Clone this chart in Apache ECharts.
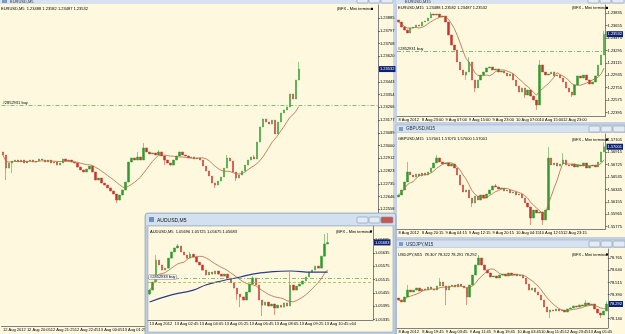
<!DOCTYPE html>
<html>
<head>
<meta charset="utf-8">
<title>MT4 workspace</title>
<script src="https://cdn.jsdelivr.net/npm/echarts@6/dist/echarts.min.js"></script>
<style>
  html, body { margin: 0; padding: 0; background: #c3d1e3; }
  #chart { width: 625px; height: 334px; }
</style>
</head>
<body>
<div id="chart"></div>
<script>
// ---- EURUSD M5 (big window), one candle per 10 minutes ----
var eurM5Open = 1.22956;
var eurM5Closes = [
  1.22935, 1.22844, 1.22879, 1.22893, 1.22900, 1.22886, 1.22900, 1.22879, 1.22893, 1.22900,
  1.22886, 1.22893, 1.22907, 1.22900, 1.22886, 1.22900, 1.22879, 1.22886, 1.22865, 1.22879,
  1.22907, 1.22893, 1.22900, 1.22886, 1.22879, 1.22851, 1.22831, 1.22817, 1.22837, 1.22858,
  1.22817, 1.22761, 1.22775, 1.22740, 1.22726, 1.22706, 1.22685, 1.22664, 1.22622, 1.22657,
  1.22692, 1.22747, 1.22886, 1.22914, 1.22900, 1.22921, 1.22900, 1.22984, 1.22956, 1.22942,
  1.22949, 1.22935, 1.22956, 1.22928, 1.22900, 1.22879, 1.22865, 1.22900, 1.22928, 1.22956,
  1.22935, 1.22928, 1.22914, 1.22921, 1.22907, 1.22914, 1.22900, 1.22858, 1.22824, 1.22789,
  1.22740, 1.22726, 1.22754, 1.22782, 1.22844, 1.22914, 1.22893, 1.22817, 1.22775, 1.22796,
  1.22824, 1.22865, 1.22900, 1.22921, 1.22907, 1.23025, 1.23130, 1.23185, 1.23164, 1.23150,
  1.23178, 1.23081, 1.23164, 1.23227, 1.23248, 1.23269, 1.23359, 1.23324, 1.23456, 1.23532
];
var eurM5Wicks = [[1, 1.22761], [3, 1.22810], [38, 1.22601], [45, 1.22956], [47, 1.23018],
  [52, 1.22970], [54, 1.22865], [71, 1.22706], [75, 1.22935], [78, 1.22754], [84, 1.22935], [99, 1.23582]];
var eurM5Ticks = [1.23885, 1.23797, 1.23708, 1.23620, 1.23443, 1.23354, 1.23266, 1.23177,
  1.23089, 1.23000, 1.22912, 1.22823, 1.22735, 1.22646, 1.22558];
var eurM5Times = ['12 Aug 2012', '12 Aug 20:05', '12 Aug 21:25', '12 Aug 22:45', '13 Aug 00:05',
  '13 Aug 01:25', '13 Aug 02:45', '13 Aug 04:05', '13 Aug 05:25', '13 Aug 06:45', '13 Aug 08:05',
  '13 Aug 09:25', '13 Aug 10:45', '13 Aug 12:05', '13 Aug 13:25', '13 Aug 14:45'];
var eurM5Bid = 1.23532;
var eurOrder = 1.23279;

// ---- EURUSD M15, one candle per hour ----
var eurM15Open = 1.23738;
var eurM15Closes = [
  1.23709, 1.23636, 1.23593, 1.23549, 1.23622, 1.23636, 1.23665, 1.23651, 1.23709, 1.23723,
  1.23767, 1.23825, 1.23810, 1.23825, 1.23781, 1.23796, 1.23709, 1.23520, 1.23375, 1.23302,
  1.23128, 1.23012, 1.22939, 1.22983, 1.23128, 1.22867, 1.22751, 1.22867, 1.22939, 1.22983,
  1.23041, 1.23055, 1.23012, 1.23026, 1.22983, 1.22997, 1.22968, 1.22925, 1.22954, 1.22867,
  1.22780, 1.22692, 1.22751, 1.22649, 1.22722, 1.22634, 1.22576, 1.22504, 1.23085, 1.22983,
  1.22939, 1.22954, 1.22983, 1.22925, 1.22939, 1.22896, 1.22838, 1.22751, 1.22692, 1.22649,
  1.22794, 1.22925, 1.22896, 1.22939, 1.22867, 1.22809, 1.22838, 1.22925, 1.23085, 1.23230,
  1.23532
];
var eurM15Wicks = [[11, 1.23854], [23, 1.22867], [24, 1.23201], [26, 1.22692], [43, 1.22605],
  [47, 1.22431], [48, 1.23157], [59, 1.22620], [70, 1.23582]];
var eurM15Ticks = [1.23835, 1.23655, 1.23475, 1.23295, 1.23115, 1.22935, 1.22755, 1.22575, 1.22395];
var eurM15Times = ['8 Aug 2012', '8 Aug 23:00', '9 Aug 07:00', '9 Aug 15:00', '9 Aug 23:00',
  '10 Aug 07:00', '10 Aug 15:00', '12 Aug 23:00', '13 Aug 06:00'];

// ---- GBPUSD M15 ----
var gbpOpen = 1.56228;
var gbpCloses = [
  1.56259, 1.56336, 1.56459, 1.56613, 1.56567, 1.56536, 1.56582, 1.56551, 1.56597, 1.56567,
  1.56613, 1.56674, 1.56751, 1.56828, 1.56767, 1.56736, 1.56751, 1.56705, 1.56736, 1.56674,
  1.56567, 1.56413, 1.56305, 1.56336, 1.56213, 1.56136, 1.56244, 1.56182, 1.56259, 1.56213,
  1.56274, 1.56336, 1.56398, 1.56382, 1.56351, 1.56367, 1.56321, 1.56336, 1.56290, 1.56305,
  1.56259, 1.56274, 1.56213, 1.56136, 1.56075, 1.55905, 1.56028, 1.55982, 1.55998, 1.55875,
  1.56028, 1.56828, 1.56720, 1.56751, 1.56705, 1.56736, 1.56797, 1.56720, 1.56705, 1.56736,
  1.56690, 1.56720, 1.56705, 1.56751, 1.56674, 1.56705, 1.56720, 1.56690, 1.56767, 1.56920,
  1.57001
];
var gbpWicks = [[3, 1.56767], [13, 1.56874], [25, 1.56075], [33, 1.56428], [45, 1.55798],
  [49, 1.55798], [51, 1.56997], [56, 1.56905], [70, 1.57070]];
var gbpTicks = [1.57105, 1.56915, 1.56725, 1.56535, 1.56345, 1.56155, 1.55965, 1.55775];
var gbpTimes = ['8 Aug 2012', '8 Aug 20:15', '9 Aug 04:15', '9 Aug 12:15', '9 Aug 20:15',
  '10 Aug 04:15', '10 Aug 12:15', '12 Aug 23:15', '13 Aug 06:15'];
var gbpBid = 1.57001;

// ---- USDJPY M15 ----
var jpyOpen = 78.354;
var jpyCloses = [
  78.333, 78.313, 78.364, 78.436, 78.416, 78.436, 78.457, 78.426, 78.447, 78.436,
  78.467, 78.447, 78.436, 78.478, 78.519, 78.478, 78.436, 78.478, 78.488, 78.467,
  78.498, 78.478, 78.457, 78.364, 78.488, 78.591, 78.695, 78.767, 78.695, 78.643,
  78.612, 78.571, 78.581, 78.560, 78.591, 78.602, 78.581, 78.612, 78.591, 78.602,
  78.581, 78.591, 78.560, 78.498, 78.436, 78.457, 78.416, 78.385, 78.333, 78.261,
  78.209, 78.230, 78.220, 78.240, 78.220, 78.230, 78.209, 78.240, 78.251, 78.271,
  78.261, 78.282, 78.271, 78.302, 78.282, 78.292, 78.240, 78.199, 78.178, 78.220,
  78.292
];
var jpyWicks = [[3, 78.488], [14, 78.560], [16, 78.282], [23, 78.282], [27, 78.798],
  [51, 78.147], [63, 78.333], [68, 78.147], [70, 78.322]];
var jpyTicks = [78.765, 78.640, 78.515, 78.390, 78.140];
var jpyTimes = ['8 Aug 2012', '8 Aug 19:45', '9 Aug 03:45', '9 Aug 11:45', '9 Aug 19:45',
  '10 Aug 03:45', '10 Aug 11:45', '12 Aug 23:45', '13 Aug 05:45'];
var jpyBid = 78.292;

// ---- AUDUSD M5 (floating window), one candle per 10 minutes ----
var audOpen = 1.05450;
var audCloses = [
  1.05468, 1.05504, 1.05603, 1.05581, 1.05558, 1.05567, 1.05612, 1.05640, 1.05658, 1.05667,
  1.05640, 1.05626, 1.05612, 1.05630, 1.05617, 1.05594, 1.05581, 1.05558, 1.05536, 1.05549,
  1.05540, 1.05554, 1.05540, 1.05531, 1.05540, 1.05522, 1.05500, 1.05477, 1.05450, 1.05437,
  1.05423, 1.05459, 1.05495, 1.05522, 1.05491, 1.05423, 1.05400, 1.05414, 1.05396, 1.05405,
  1.05387, 1.05400, 1.05391, 1.05410, 1.05396, 1.05491, 1.05468, 1.05486, 1.05495, 1.05509,
  1.05527, 1.05549, 1.05558, 1.05576, 1.05567, 1.05621, 1.05676, 1.05683
];
var audWicks = [[0, 1.05446], [2, 1.05626], [9, 1.05676], [13, 1.05640], [28, 1.05423],
  [29, 1.05391], [33, 1.05531], [36, 1.05351], [40, 1.05355], [45, 1.05549], [56, 1.05721],
  [57, 1.05725], [57, 1.05675]];
var audLongMa = [[0, 1.05414], [7, 1.05446], [14, 1.05468], [18, 1.05491], [23, 1.05509],
  [29, 1.05527], [33, 1.05540], [38, 1.05549], [45, 1.05554], [52, 1.05549], [57, 1.05549]];
var audTicks = [1.05695, 1.05635, 1.05575, 1.05515, 1.05455, 1.05395, 1.05335];
var audTimes = ['13 Aug 2012', '13 Aug 02:45', '13 Aug 04:05', '13 Aug 05:25', '13 Aug 06:45',
  '13 Aug 08:05', '13 Aug 09:25', '13 Aug 10:45'];
var audBid = 1.05683;
var audOrders = [1.05522, 1.05504];

// ---------------------------------------------------------------
var FONT = 'Liberation Sans';
var CREAM = '#fdf8de';
var UP = '#2f9a2f', DOWN = '#c8342b', MA = '#b4683f';

function candles(open0, closes, wicks) {
  var out = [], prev = open0;
  closes.forEach(function (c) {
    out.push([prev, c, Math.min(prev, c), Math.max(prev, c)]);
    prev = c;
  });
  wicks.forEach(function (w) {
    var d = out[w[0]];
    if (w[1] > d[3]) d[3] = w[1];
    if (w[1] < d[2]) d[2] = w[1];
  });
  return out;
}

function sma(closes, n) {
  return closes.map(function (c, i) {
    var s = 0, k = 0;
    for (var j = Math.max(0, i - n + 1); j <= i; j++) { s += closes[j]; k++; }
    return +(s / k).toFixed(6);
  });
}

function cats(n, labels) {
  var out = [];
  for (var i = 0; i < n; i++) out.push(i % 8 === 0 && labels[i / 8] ? labels[i / 8] : 'c' + i);
  return out;
}
function every8(i) { return i % 8 === 0; }

function xAx(gi, n, labels, zl) {
  return {
    type: 'category', gridIndex: gi, data: cats(n, labels), boundaryGap: true,
    zlevel: zl || 0, z: 3,
    axisLine: { lineStyle: { color: '#808080', width: 1 } },
    axisTick: { interval: every8, length: 2, lineStyle: { color: '#333', width: 0.6 } },
    axisLabel: { interval: every8, fontSize: 4, fontFamily: FONT, color: '#000', align: 'left', margin: 1.5 },
    splitLine: { show: false }
  };
}

function yAx(gi, min, max, ticks, digits, zl) {
  return {
    type: 'value', gridIndex: gi, position: 'right', min: min, max: max,
    zlevel: zl || 0, z: 3,
    splitLine: { show: false },
    axisLine: { show: true, lineStyle: { color: '#808080', width: 1 } },
    axisTick: { show: true, customValues: ticks, length: 2, lineStyle: { color: '#333', width: 0.6 } },
    axisLabel: {
      customValues: ticks, fontSize: 4, fontFamily: FONT, color: '#000', margin: 2,
      formatter: function (v) { return v.toFixed(digits); }
    }
  };
}

function bidLine(v, digits) {
  return {
    yAxis: v,
    lineStyle: { color: 'rgba(0,0,0,0)', width: 0 },
    label: {
      show: true, position: 'end', distance: 1, formatter: v.toFixed(digits),
      backgroundColor: '#0b2173', color: '#fff', fontSize: 4, fontFamily: FONT, padding: [1, 1]
    }
  };
}

function orderLine(v, text, color, dash, boxed) {
  return {
    yAxis: v,
    lineStyle: { color: color, type: dash, width: 0.8 },
    label: {
      show: !!text, position: 'insideStartTop', distance: boxed ? [1, -1] : [1, 1], formatter: text || '',
      fontSize: 4, fontFamily: FONT, color: '#000',
      backgroundColor: boxed ? '#f4f4f4' : 'transparent', borderColor: boxed ? '#888' : 'transparent',
      borderWidth: boxed ? 0.5 : 0, padding: boxed ? [0, 1] : 0
    }
  };
}

function candleSeries(xi, data, zl) {
  return {
    type: 'candlestick', xAxisIndex: xi, yAxisIndex: xi, data: data, barWidth: 2,
    zlevel: zl || 0, z: 4,
    itemStyle: { color: UP, color0: DOWN, borderColor: UP, borderColor0: DOWN, borderWidth: 0.5 }
  };
}
function maSeries(xi, data, color, width, zl, smooth, marks) {
  var s = {
    type: 'line', xAxisIndex: xi, yAxisIndex: xi, data: data, showSymbol: false, smooth: !!smooth,
    zlevel: zl || 0, z: 5,
    lineStyle: { color: color, width: width }
  };
  if (marks) {
    s.markLine = { silent: true, symbol: 'none', animation: false, precision: 5,
      zlevel: zl || 0, z: 6, data: marks };
  }
  return s;
}

// ---- window chrome (not data) ----
function rect(x, y, w, h, fill, zl, z, stroke, r) {
  return { type: 'rect', zlevel: zl, z: z, silent: true,
    shape: { x: x, y: y, width: w, height: h, r: r || 0 },
    style: { fill: fill, stroke: stroke || null, lineWidth: stroke ? 0.6 : 0 } };
}
function txt(x, y, s, size, zl, z, color) {
  return { type: 'text', zlevel: zl, z: z, silent: true, x: x, y: y,
    style: { text: s, fontSize: size, fontFamily: FONT, fill: color || '#000', verticalAlign: 'middle' } };
}
function buttons(x, y, zl, z, redLast) {
  return [
    rect(x, y, 11, 6, '#e4ebf4', zl, z, '#8597ad', 1),
    rect(x + 12, y, 11, 6, '#e4ebf4', zl, z, '#8597ad', 1),
    rect(x + 24, y, 12, 6, redLast ? '#c9574f' : '#e4ebf4', zl, z, '#8597ad', 1)
  ];
}
function bfx(x, y, zl, z) {
  return [txt(x, y, '(BFX - Mini terminal', 4, zl, z), rect(x + 34, y - 1, 2, 2, '#000', zl, z)];
}

var graphics = [].concat(
  // main EURUSD,M5 window
  [rect(0, 0, 396, 334, '#c9d6e7', 0, -6),
   rect(0, 0, 394, 4, '#d7e2f0', 0, -5),
   rect(0, 4, 393, 330, CREAM, 0, -5),
   rect(2, 0, 5, 3, '#7d9cc3', 0, -4),
   txt(10, 1.5, 'EURUSD,M5', 4, 0, -4, '#1d2a3a'),
   txt(1, 8.5, 'EURUSD,M5  1.23488 1.23582 1.23487 1.23532', 4, 0, 10)],
  buttons(357, -3, 0, -4, false),
  bfx(337, 9, 0, 10),
  // right column windows
  [rect(395, 0, 230, 334, '#c3d1e3', 0, -6),
   rect(396, 0, 229, 4, '#d7e2f0', 0, -5),
   rect(397, 4, 228, 118, CREAM, 0, -5),
   txt(405, 1.5, 'EURUSD,M15', 4, 0, -4, '#1d2a3a'),
   txt(398, 7.5, 'EURUSD,M15  1.23488 1.23582 1.23487 1.23532', 4, 0, 10),
   rect(396, 125, 229, 8, '#d7e2f0', 0, -5, '#9fb2c9'),
   rect(399, 127, 4, 4, '#7d9cc3', 0, -4),
   txt(406, 129, 'GBPUSD,M15', 4.5, 0, -4, '#1d2a3a'),
   rect(397, 133, 228, 104, CREAM, 0, -5),
   txt(398, 139, 'GBPUSD,M15  1.57001 1.57070 1.57000 1.57001', 4, 0, 10),
   rect(396, 240, 229, 8, '#d7e2f0', 0, -5, '#9fb2c9'),
   rect(399, 242, 4, 4, '#7d9cc3', 0, -4),
   txt(406, 244.5, 'USDJPY,M15', 4.5, 0, -4, '#1d2a3a'),
   rect(397, 248, 228, 86, CREAM, 0, -5),
   txt(398, 254.5, 'USDJPY,M15  78.307 78.322 78.291 78.292', 4, 0, 10)],
  buttons(588, -3, 0, -4, false),
  buttons(589, 126, 0, -4, false),
  buttons(589, 241, 0, -4, false),
  bfx(572, 8, 0, 10), bfx(572, 139.5, 0, 10), bfx(572, 254.5, 0, 10),
  // floating AUDUSD,M5 window
  [rect(145, 213, 251, 125, '#bccde2', 1, 0, '#7f93ad', 3),
   rect(146, 214, 249, 11, '#d3e0ef', 1, 1),
   rect(149, 217, 5, 5, '#6f90bd', 1, 2),
   txt(157, 220.5, 'AUDUSD,M5', 5, 1, 2, '#111'),
   rect(148, 226, 245, 106, CREAM, 1, 1, '#9aa9bb'),
   txt(150, 231.5, 'AUDUSD,M5  1.05696 1.05725 1.05675 1.05683', 4, 1, 10)],
  buttons(357, 217, 1, 2, true),
  bfx(336, 231.5, 1, 10)
);

// ---- charts ----
var option = {
  backgroundColor: '#c3d1e3',
  animation: false,
  graphic: graphics,
  grid: [
    { left: 0, top: 5, width: 378, height: 321 },
    { left: 397, top: 5, width: 213, height: 111 },
    { left: 397, top: 134, width: 213, height: 95 },
    { left: 397, top: 249, width: 213, height: 79 },
    { left: 148, top: 226, width: 225, height: 94, zlevel: 1 }
  ],
  xAxis: [
    xAx(0, 126, eurM5Times),
    xAx(1, 71, eurM15Times),
    xAx(2, 71, gbpTimes),
    xAx(3, 71, jpyTimes),
    xAx(4, 72, audTimes, 1)
  ],
  yAxis: [
    yAx(0, 1.21747, 1.23977, eurM5Ticks, 5),
    yAx(1, 1.22344, 1.23956, eurM15Ticks, 5),
    yAx(2, 1.55736, 1.57197, gbpTicks, 5),
    yAx(3, 78.044, 78.860, jpyTicks, 3),
    yAx(4, 1.05333, 1.05757, audTicks, 5, 1)
  ],
  series: [
    candleSeries(0, candles(eurM5Open, eurM5Closes, eurM5Wicks)),
    maSeries(0, sma(eurM5Closes, 11), MA, 0.8, 0, false,
      [orderLine(eurOrder, '#2852931 buy', '#5cae55', [4, 2, 1, 2]), bidLine(eurM5Bid, 5)]),
    candleSeries(1, candles(eurM15Open, eurM15Closes, eurM15Wicks)),
    maSeries(1, sma(eurM15Closes, 7), MA, 0.8, 0, false,
      [orderLine(eurOrder, '#2852931 buy', '#5cae55', [4, 2, 1, 2]), bidLine(eurM5Bid, 5)]),
    candleSeries(2, candles(gbpOpen, gbpCloses, gbpWicks)),
    maSeries(2, sma(gbpCloses, 6), MA, 0.8, 0, false, [bidLine(gbpBid, 5)]),
    candleSeries(3, candles(jpyOpen, jpyCloses, jpyWicks)),
    maSeries(3, sma(jpyCloses, 7), MA, 0.8, 0, false, [bidLine(jpyBid, 3)]),
    candleSeries(4, candles(audOpen, audCloses, audWicks), 1),
    maSeries(4, sma(audCloses, 12), MA, 0.8, 1, false,
      [orderLine(audOrders[0], '#2852933 buy', '#5cae55', [4, 2, 1, 2], true),
       orderLine(audOrders[1], '', '#b8b43a', [3, 2]),
       bidLine(audBid, 5)]),
    maSeries(4, audLongMa, '#2d3a8a', 1.2, 1, true)
  ]
};

var myChart = echarts.init(document.getElementById('chart'));
myChart.setOption(option);
window.addEventListener('resize', function () {
  myChart.resize();
});
</script>
</body>
</html>
